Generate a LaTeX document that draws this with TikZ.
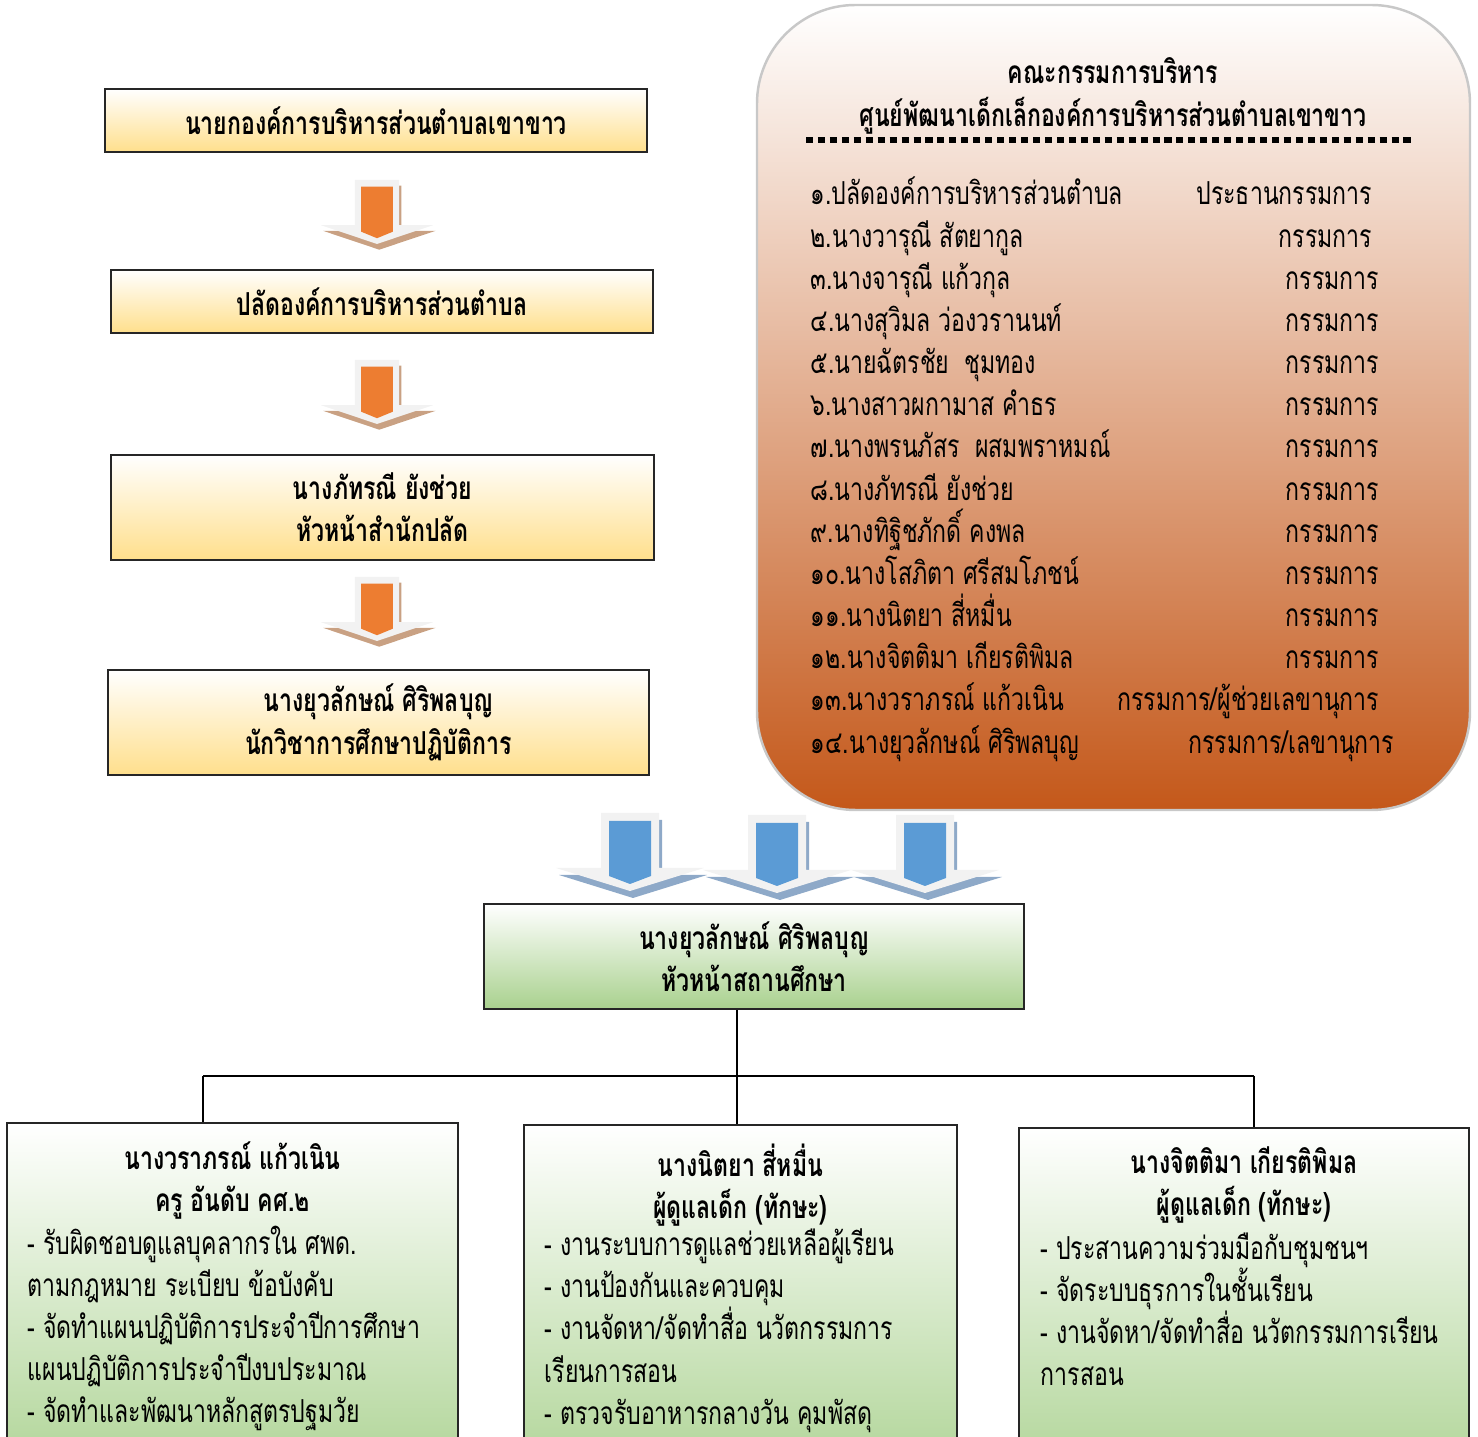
\documentclass[tikz,border=0pt]{standalone}
\usepackage{fontspec}
\setmainfont[Script=Thai,FakeStretch=0.73]{Loma}
\usepackage{tikz}
\usetikzlibrary{calc}
\definecolor{boxline}{HTML}{262626}
\definecolor{yellowlo}{HTML}{FFDF8C}
\definecolor{greenlo}{HTML}{A9D18E}
\definecolor{arrowbody}{HTML}{F2F2F2}
\definecolor{orangefill}{HTML}{ED7D31}
\definecolor{orangeshade}{HTML}{C9A183}
\definecolor{bluefill}{HTML}{5B9BD5}
\definecolor{blueshade}{HTML}{8EA9C8}
\definecolor{boardmid}{HTML}{E3BDB6}
\definecolor{boardlow}{HTML}{C4581A}
\definecolor{boardline}{HTML}{C8C8C8}
\newcommand{\orgfont}{\fontsize{9}{12}\selectfont}
\newcommand{\firstline}{\rule{0pt}{10pt}}
% block arrow: top centre, xscale, yscale, inner colour, shadow colour
\newcommand{\blockarrow}[5]{%
  \begin{scope}[shift={(#1)},xscale=#2,yscale=#3]
    \fill[#5] (-26,7) -- (32,7) -- (32,62) -- (77,62) -- (3,85) -- (-71,62) -- (-26,62) -- cycle;
    \fill[arrowbody] (-29,0) -- (29,0) -- (29,55) -- (74,55) -- (0,78) -- (-74,55) -- (-29,55) -- cycle;
    \fill[#4] (-21,8) -- (21,8) -- (21,63) -- (0,71) -- (-21,63) -- cycle;
  \end{scope}}
\tikzset{
  yellowbox/.style={draw=boxline, line width=0.6pt, inner sep=0pt, top color=white, bottom color=yellowlo, align=center, font=\orgfont\bfseries},
  greenbox/.style={draw=boxline, line width=0.6pt, inner sep=0pt, top color=white, bottom color=greenlo, align=center, font=\orgfont\bfseries},
  boardbox/.style={draw=boardline, line width=0.7pt, rounded corners=28pt, top color=white, middle color=boardmid, bottom color=boardlow},
  plaintext/.style={inner sep=0pt, font=\orgfont},
  link/.style={line width=0.5pt}
}
\begin{document}
\begin{tikzpicture}[x=0.1mm,y=-0.1mm]
\useasboundingbox (0,0) rectangle (1478,1437);
% left chain
\node[yellowbox, minimum width=54.2mm, minimum height=6.3mm] (nayok) at (376,120.5) {นายกองค์การบริหารส่วนตำบลเขาขาว};
\node[yellowbox, minimum width=54.2mm, minimum height=6.3mm] (palad) at (382,301.5) {ปลัดองค์การบริหารส่วนตำบล};
\node[yellowbox, minimum width=54.3mm, minimum height=10.5mm] (huanasamnak) at (382.5,507.5) {นางภัทรณี ยังช่วย\\หัวหน้าสำนักปลัด};
\node[yellowbox, minimum width=54.1mm, minimum height=10.5mm] (nakwichakan) at (378.5,722.5) {นางยุวลักษณ์ ศิริพลบุญ\\นักวิชาการศึกษาปฏิบัติการ};
\coordinate (arr1) at (377,180);
\coordinate (arr2) at (377,360);
\coordinate (arr3) at (377,577);
\blockarrow{arr1}{0.76}{0.82}{orangefill}{orangeshade}
\blockarrow{arr2}{0.76}{0.82}{orangefill}{orangeshade}
\blockarrow{arr3}{0.76}{0.82}{orangefill}{orangeshade}
% board
\node[boardbox, minimum width=71.3mm, minimum height=80.5mm] (board) at (1113.5,407.5) {};
\node[plaintext, font=\orgfont\bfseries, align=center] (boardtitle) at (1113,96) {คณะกรรมการบริหาร\\ศูนย์พัฒนาเด็กเล็กองค์การบริหารส่วนตำบลเขาขาว};
\draw[line width=1.7pt, dash pattern=on 2pt off 1.4pt] (806,140) -- (1415,140);
\node[plaintext, align=left, anchor=north west] (members) at (810,169) {%
\firstline๑.ปลัดองค์การบริหารส่วนตำบล\\
๒.นางวารุณี สัตยากูล\\
๓.นางจารุณี แก้วกุล\\
๔.นางสุวิมล ว่องวรานนท์\\
๕.นายฉัตรชัย\ \ ชุมทอง\\
๖.นางสาวผกามาส คำธร\\
๗.นางพรนภัสร\ \ ผสมพราหมณ์\\
๘.นางภัทรณี ยังช่วย\\
๙.นางทิฐิชภักดิ์ คงพล\\
๑๐.นางโสภิตา ศรีสมโภชน์\\
๑๑.นางนิตยา สี่หมื่น\\
๑๒.นางจิตติมา เกียรติพิมล\\
๑๓.นางวราภรณ์ แก้วเนิน\\
๑๔.นางยุวลักษณ์ ศิริพลบุญ};
\node[plaintext, align=right, anchor=north east] (roles) at (1395,169) {%
\firstline ประธานกรรมการ\hspace*{6.3pt}\null\\
กรรมการ\hspace*{6.3pt}\null\\
กรรมการ\hspace*{4.3pt}\null\\
กรรมการ\hspace*{4.3pt}\null\\
กรรมการ\hspace*{4.3pt}\null\\
กรรมการ\hspace*{4.3pt}\null\\
กรรมการ\hspace*{4.3pt}\null\\
กรรมการ\hspace*{4.3pt}\null\\
กรรมการ\hspace*{4.3pt}\null\\
กรรมการ\hspace*{4.3pt}\null\\
กรรมการ\hspace*{4.3pt}\null\\
กรรมการ\hspace*{4.3pt}\null\\
กรรมการ/ผู้ช่วยเลขานุการ\hspace*{4.3pt}\null\\
กรรมการ/เลขานุการ};
% head of centre
\coordinate (arr4) at (630,813);
\coordinate (arr5) at (777,815);
\coordinate (arr6) at (925,815);
\blockarrow{arr4}{1}{1}{bluefill}{blueshade}
\blockarrow{arr5}{1}{1}{bluefill}{blueshade}
\blockarrow{arr6}{1}{1}{bluefill}{blueshade}
\node[greenbox, minimum width=54mm, minimum height=10.5mm] (head) at (754,956.5) {นางยุวลักษณ์ ศิริพลบุญ\\หัวหน้าสถานศึกษา};
% staff
\node[greenbox, minimum width=45.1mm, minimum height=38mm] (staffa) at (232.5,1313) {};
\node[greenbox, minimum width=43.3mm, minimum height=38mm] (staffb) at (740.5,1315) {};
\node[greenbox, minimum width=45mm, minimum height=38mm] (staffc) at (1244,1318) {};
\node[plaintext, font=\orgfont\bfseries, align=center, anchor=north] (staffahead) at ($(staffa.north)+(0,19)$) {นางวราภรณ์ แก้วเนิน\\ครู อันดับ คศ.๒};
\node[plaintext, align=left, anchor=north west] (staffatext) at (27,1225) {%
- รับผิดชอบดูแลบุคลากรใน ศพด.\\
ตามกฎหมาย ระเบียบ ข้อบังคับ\\
- จัดทำแผนปฏิบัติการประจำปีการศึกษา\\
แผนปฏิบัติการประจำปีงบประมาณ\\
- จัดทำและพัฒนาหลักสูตรปฐมวัย};
\node[plaintext, font=\orgfont\bfseries, align=center, anchor=north] (staffbhead) at ($(staffb.north)+(0,19)$) {นางนิตยา สี่หมื่น\\ผู้ดูแลเด็ก (ทักษะ)};
\node[plaintext, align=left, anchor=north west] (staffbtext) at (544,1228) {%
- งานระบบการดูแลช่วยเหลือผู้เรียน\\
- งานป้องกันและควบคุม\\
- งานจัดหา/จัดทำสื่อ นวัตกรรมการ\\
เรียนการสอน\\
- ตรวจรับอาหารกลางวัน คุมพัสดุ};
\node[plaintext, font=\orgfont\bfseries, align=center, anchor=north] (staffchead) at ($(staffc.north)+(0,19)$) {นางจิตติมา เกียรติพิมล\\ผู้ดูแลเด็ก (ทักษะ)};
\node[plaintext, align=left, anchor=north west] (staffctext) at (1040,1232) {%
- ประสานความร่วมมือกับชุมชนฯ\\
- จัดระบบธุรการในชั้นเรียน\\
- งานจัดหา/จัดทำสื่อ นวัตกรรมการเรียน\\
การสอน};
% links
\coordinate (busl) at (203,1076);
\coordinate (busr) at (1254,1076);
\coordinate (busm) at (737,1076);
\draw[link] (busm |- head.south) -- (busm |- staffb.north);
\draw[link] (busl) -- (busr);
\draw[link] (busl) -- (busl |- staffa.north);
\draw[link] (busr) -- (busr |- staffc.north);
\end{tikzpicture}
\end{document}
